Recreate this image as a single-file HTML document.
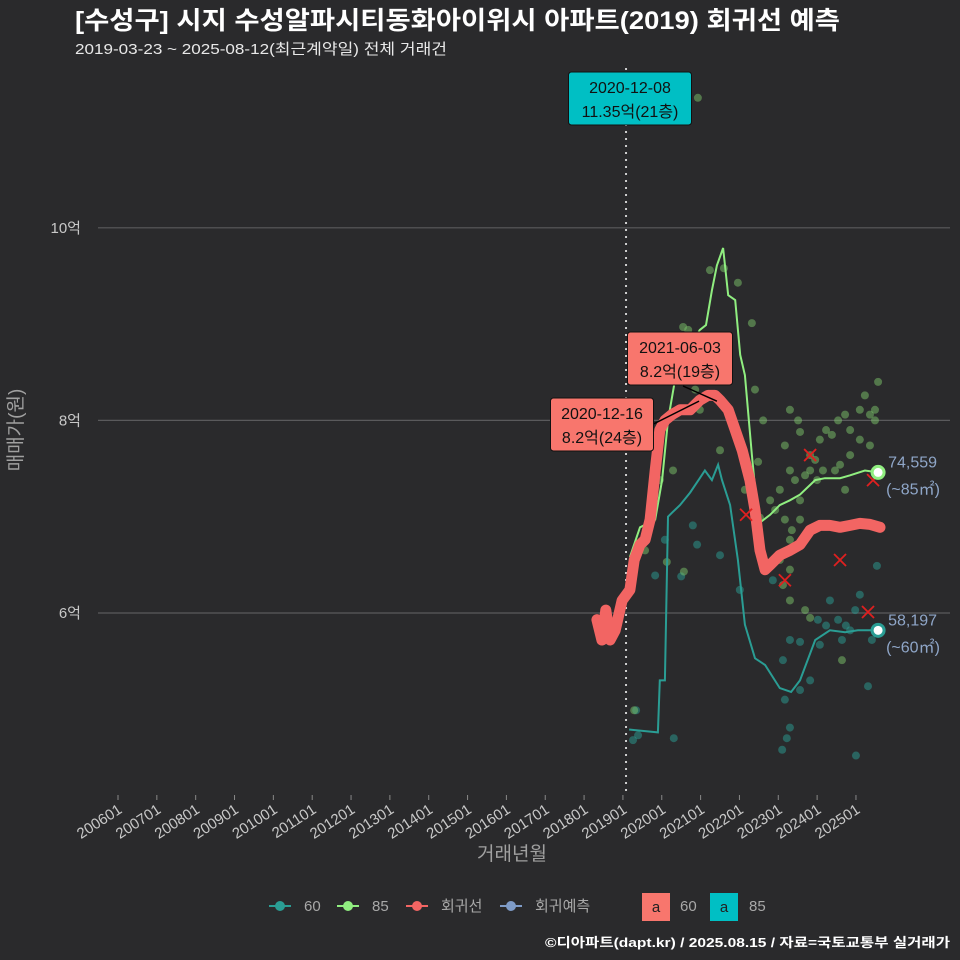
<!DOCTYPE html>
<html><head><meta charset="utf-8">
<style>
html,body{margin:0;padding:0;background:#2a2a2c;}
svg{display:block;font-family:"Liberation Sans","Noto Sans CJK KR",sans-serif;}
</style></head>
<body>
<svg id="chart" width="960" height="960" viewBox="0 0 960 960">
<rect x="0" y="0" width="960" height="960" fill="#2a2a2c"/>
<text x="75" y="29" fill="#ffffff" font-size="25" font-weight="bold" textLength="765" lengthAdjust="spacingAndGlyphs">[수성구] 시지 수성알파시티동화아이위시 아파트(2019) 회귀선 예측</text>
<text x="75" y="54" fill="#e8e8e8" font-size="15" textLength="372" lengthAdjust="spacingAndGlyphs">2019-03-23 ~ 2025-08-12(최근계약일) 전체 거래건</text>
<g id="grid"></g>
<g id="axes"></g>
<g id="marks"></g>
<g id="annot"></g>
<text x="512" y="860" fill="#a0a0a0" font-size="19" text-anchor="middle">거래년월</text>
<text x="0" y="0" fill="#a0a0a0" font-size="19" text-anchor="middle" transform="translate(22,430) rotate(-90)">매매가(원)</text>
<g font-size="15" fill="#a8a8a8">
  <g>
    <line x1="269" y1="906" x2="291" y2="906" stroke="#2a9d94" stroke-width="2"/><circle cx="280" cy="906" r="5" fill="#2a9d94"/>
    <text x="304" y="911" fill="#a8a8a8">60</text></g>
  <g>
    <line x1="337" y1="906" x2="359" y2="906" stroke="#90ee80" stroke-width="2"/><circle cx="348" cy="906" r="5" fill="#90ee80"/>
    <text x="372" y="911" fill="#a8a8a8">85</text></g>
  <g>
    <line x1="406" y1="906" x2="428" y2="906" stroke="#f26563" stroke-width="2"/><circle cx="417" cy="906" r="5" fill="#f26563"/>
    <text x="441" y="911" fill="#a8a8a8">회귀선</text></g>
  <g>
    <line x1="500" y1="906" x2="522" y2="906" stroke="#7f9cc8" stroke-width="2"/><circle cx="511" cy="906" r="5" fill="#7f9cc8"/>
    <text x="535" y="911" fill="#a8a8a8">회귀예측</text></g>
  <g>
    <rect x="642" y="893" width="28" height="28" fill="#f8766d"/><text x="656" y="912" text-anchor="middle" fill="#222">a</text>
    <text x="680" y="911" fill="#a8a8a8">60</text></g>
  <g>
    <rect x="710" y="893" width="28" height="28" fill="#00bfc4"/><text x="724" y="912" text-anchor="middle" fill="#222">a</text>
    <text x="749" y="911" fill="#a8a8a8">85</text></g>
</g>
<text x="950" y="947" fill="#ffffff" font-size="13" font-weight="bold" text-anchor="end" textLength="405" lengthAdjust="spacingAndGlyphs">©디아파트(dapt.kr) / 2025.08.15 / 자료=국토교통부 실거래가</text>
</svg>
<script>
const yTicks=[6,8,10];
const yTickLabels=["6억","8억","10억"];
const xTickYears=[2006,2007,2008,2009,2010,2011,2012,2013,2014,2015,2016,2017,2018,2019,2020,2021,2022,2023,2024,2025];
const xTickLabels=["200601","200701","200801","200901","201001","201101","201201","201301","201401","201501","201601","201701","201801","201901","202001","202101","202201","202301","202401","202501"];
const regT=[2018.33,2018.46,2018.56,2018.67,2018.80,2018.98,2019.18,2019.29,2019.44,2019.57,2019.70,2019.83,2019.95,2020.08,2020.26,2020.47,2020.73,2020.98,2021.19,2021.37,2021.50,2021.71,2021.89,2022.07,2022.27,2022.40,2022.53,2022.66,2022.79,2023.04,2023.30,2023.56,2023.82,2024.07,2024.33,2024.59,2024.85,2025.10,2025.36,2025.62];
const regV=[5.93,5.72,6.03,5.72,5.82,6.13,6.24,6.55,6.71,6.76,6.97,7.48,7.90,8.00,8.06,8.11,8.11,8.21,8.26,8.26,8.21,8.11,7.90,7.69,7.38,7.07,6.65,6.45,6.50,6.60,6.65,6.71,6.86,6.91,6.91,6.89,6.91,6.93,6.92,6.89];
const g85T=[2019.18,2019.44,2019.83,2020.01,2020.16,2020.34,2020.60,2020.98,2021.14,2021.29,2021.42,2021.58,2021.71,2021.89,2022.02,2022.14,2022.32,2022.48,2022.53,2022.79,2023.04,2023.30,2023.56,2023.95,2024.20,2024.59,2024.85,2025.23,2025.57];
const g85V=[6.58,6.89,6.97,7.38,8.00,8.42,8.68,8.94,8.99,9.35,9.61,9.79,9.30,9.25,8.68,8.47,7.64,6.97,6.94,7.02,7.12,7.17,7.23,7.38,7.40,7.40,7.43,7.48,7.46];
const t60T=[2019.16,2019.90,2019.95,2020.08,2020.16,2020.26,2020.47,2020.73,2020.98,2021.11,2021.29,2021.45,2021.55,2021.76,2021.96,2022.14,2022.40,2022.66,2023.04,2023.33,2023.56,2023.95,2024.33,2024.72,2025.05,2025.57];
const t60V=[4.79,4.76,5.30,5.30,7.00,7.04,7.12,7.25,7.40,7.48,7.38,7.54,7.38,7.12,6.55,5.88,5.53,5.46,5.22,5.18,5.30,5.72,5.82,5.80,5.82,5.82];
const pt85T=[2020.93,2021.24,2021.60,2021.96,2022.32,2022.40,2020.68,2020.70,2020.55,2019.44,2019.57,2019.75,2019.95,2020.29,2020.57,2020.13,2020.86,2020.98,2021.50,2022.48,2022.61,2023.30,2023.51,2023.56,2023.82,2023.95,2023.69,2024.07,2024.23,2024.38,2024.54,2024.72,2024.85,2025.10,2025.36,2025.10,2025.23,2025.49,2025.57,2025.36,2023.17,2023.30,2023.43,2023.56,2023.04,2022.92,2023.17,2023.35,2023.82,2024.00,2024.15,2024.59,2024.72,2024.85,2024.46,2023.04,2023.30,2023.12,2023.30,2023.69,2023.82,2024.64,2019.29,2022.79,2022.53,2023.56,2023.30,2022.14,2025.49];
const pt85V=[11.35,9.56,9.58,9.43,9.01,8.32,8.94,8.83,8.97,6.71,6.65,6.97,7.38,7.48,6.43,6.53,8.32,8.11,7.69,7.57,8.00,8.11,8.00,7.88,7.64,7.59,7.43,7.80,7.90,7.85,8.00,8.06,7.90,7.80,7.74,8.11,8.26,8.00,8.40,8.06,7.74,7.48,7.38,7.17,7.28,7.07,6.97,6.86,7.48,7.38,7.48,7.54,7.28,7.64,7.48,6.55,6.45,6.29,6.13,6.03,5.95,5.51,4.99,7.17,6.99,6.97,6.76,7.28,8.11];
const pt60T=[2020.91,2021.50,2020.50,2020.08,2019.83,2019.70,2020.80,2019.34,2019.39,2020.31,2019.26,2022.01,2022.86,2023.30,2023.12,2023.17,2023.30,2023.22,2023.10,2023.56,2024.02,2024.33,2024.54,2024.64,2024.98,2025.41,2025.00,2025.31,2025.54,2025.10,2024.07,2023.82,2023.56,2024.85,2024.23,2024.74];
const pt60V=[6.71,6.60,6.38,6.76,6.39,6.97,6.91,4.99,4.73,4.70,4.68,6.24,6.34,5.72,5.51,5.10,4.81,4.70,4.58,5.70,5.93,6.13,5.93,5.72,6.03,5.72,4.52,5.24,6.49,6.19,5.67,5.30,5.20,5.82,5.87,5.87];
const xMarkT=[2023.82,2024.59,2023.17,2025.31,2025.44,2022.17];
const xMarkV=[7.64,6.55,6.34,6.01,7.38,7.02];
const endT=[2025.57,2025.57];
const endV=[7.46,5.82];
const endPrice=["74,559","58,197"];
const endArea=["(~85㎡)","(~60㎡)"];
const annT=[2020.93,2021.42,2020.96];
const annV=[11.35,8.2,8.2];
const annDate=["2020-12-08","2021-06-03","2020-12-16"];
const annPrice=["11.35억(21층)","8.2억(19층)","8.2억(24층)"];

const NS="http://www.w3.org/2000/svg";
const X=t=>118+(t-2006)*38.84;
const Y=v=>613-(v-6)*96.3;
function mk(parent,tag,attrs,text){const e=document.createElementNS(NS,tag);for(const k in attrs)e.setAttribute(k,attrs[k]);if(text!==undefined)e.textContent=text;parent.appendChild(e);return e;}
const grid=document.getElementById('grid'),axes=document.getElementById('axes'),marks=document.getElementById('marks'),annot=document.getElementById('annot');
yTicks.forEach((v,i)=>{
  const l=mk(grid,'line',{x1:98,x2:950,y1:Y(v),y2:Y(v),stroke:'#5a5a5c','stroke-width':1.2});
  
  
  const t=mk(axes,'text',{x:81,y:Y(v)+5,fill:'#c8c8c8','font-size':15,'text-anchor':'end'},yTickLabels[i]);
  
  
});
xTickYears.forEach((yr,i)=>{
  const x=X(yr);
  const l=mk(axes,'line',{x1:x,x2:x,y1:795,y2:800,stroke:'#888','stroke-width':1});
  
  
  const t=mk(axes,'text',{x:0,y:0,fill:'#c8c8c8','font-size':15,'text-anchor':'end',transform:`translate(${x+5},${812}) rotate(-33)`},xTickLabels[i]);
  
  
});
const ref=mk(marks,'line',{x1:X(2019.08),x2:X(2019.08),y1:68,y2:795,stroke:'#cfcfcf','stroke-width':2,'stroke-dasharray':'2,5'});


function path(T,V){return T.map((t,i)=>(i?'L':'M')+X(t).toFixed(1)+','+Y(V[i]).toFixed(1)).join('');}
pt60T.forEach((t,i)=>{const c=mk(marks,'circle',{cx:X(t),cy:Y(pt60V[i]),r:4,fill:'#2a9d94','fill-opacity':0.5});
  
  });
pt85T.forEach((t,i)=>{const c=mk(marks,'circle',{cx:X(t),cy:Y(pt85V[i]),r:4,fill:'#7cc46a','fill-opacity':0.5});
  
  });
const l60=mk(marks,'path',{d:path(t60T,t60V),fill:'none',stroke:'#2a9d94','stroke-width':2});


const l85=mk(marks,'path',{d:path(g85T,g85V),fill:'none',stroke:'#90ee80','stroke-width':2});


const reg=mk(marks,'path',{d:path(regT,regV),fill:'none',stroke:'#f26563','stroke-width':11,'stroke-linejoin':'round','stroke-linecap':'round'});


xMarkT.forEach((t,i)=>{const x=X(t),y=Y(xMarkV[i]);
  const p=mk(marks,'path',{d:`M${x-6},${y-6}L${x+6},${y+6}M${x-6},${y+6}L${x+6},${y-6}`,stroke:'#e02020','stroke-width':1.8});
  
  });
const endCol=['#90ee80','#2a9d94'];
endT.forEach((t,i)=>{const x=X(t),y=Y(endV[i]);
  const c=mk(marks,'circle',{cx:x,cy:y,r:6,fill:'#ffffff',stroke:endCol[i],'stroke-width':3});
  
  
  const a=mk(annot,'text',{x:x+10,y:y-5,fill:'#8fa6c8','font-size':16},endPrice[i]);
  
  
  const b=mk(annot,'text',{x:x+8,y:y+22,fill:'#8fa6c8','font-size':16},endArea[i]);
  
  });
const boxes=[{cx:630,y:72,w:123,fill:'#00bfc4',lx:null},{cx:680,y:332,w:105,fill:'#f8766d',lx:1},{cx:602,y:398,w:103,fill:'#f8766d',lx:1}];
annT.forEach((t,i)=>{const b=boxes[i];
  const g=mk(annot,'g',{});
  
  
  if(b.lx){const px=X(t),py=Y(annV[i]);
    const ex=i===1?b.cx+3:b.cx+b.w/2, ey=i===1?b.y+54:b.y+26;
    mk(g,'line',{x1:ex,y1:ey,x2:px,y2:py,stroke:'#000','stroke-width':1.5});}
  mk(g,'rect',{x:b.cx-b.w/2,y:b.y,width:b.w,height:53,rx:3,fill:b.fill,stroke:'#111','stroke-width':1});
  mk(g,'text',{x:b.cx,y:b.y+21,'text-anchor':'middle','font-size':16,fill:'#111'},annDate[i]);
  mk(g,'text',{x:b.cx,y:b.y+45,'text-anchor':'middle','font-size':16,fill:'#111'},annPrice[i]);
});
</script>
</body></html>
